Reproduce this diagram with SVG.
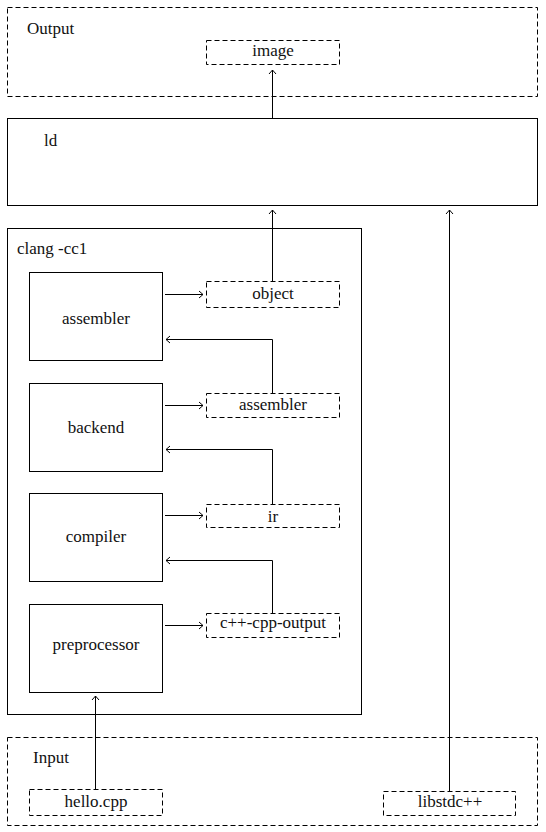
<svg xmlns="http://www.w3.org/2000/svg" width="546" height="832" viewBox="0 0 546 832">
  <style>
    text { font-family: "Liberation Serif", "Times New Roman", serif; font-size: 17px; fill: #111; }
    .mid { text-anchor: middle; }
    .box { fill: none; stroke: #000; stroke-width: 1; }
    .dash { fill: none; stroke: #000; stroke-width: 1; stroke-dasharray: 5 3; }
    .edge { fill: none; stroke: #000; stroke-width: 1; marker-end: url(#arrow); }
  </style>
  <defs>
    <marker id="arrow" markerUnits="userSpaceOnUse" markerWidth="10" markerHeight="10" viewBox="-6 -5 8 10" refX="0" refY="0" orient="auto">
      <path d="M-4,-3.5 L0,0 L-4,3.5" fill="none" stroke="#000" stroke-width="1"/>
    </marker>
  </defs>
  <rect width="546" height="832" fill="#fff"/>

  <!-- Output cluster -->
  <g id="output">
    <rect class="dash" x="7.5" y="7.5" width="530" height="89"/>
    <text x="27" y="34">Output</text>
  </g>
  <g id="image">
    <rect class="dash" x="206.5" y="40.5" width="133" height="24"/>
    <text class="mid" x="273" y="56">image</text>
  </g>

  <!-- Linker -->
  <g id="ld">
    <rect class="box" x="7.5" y="118.5" width="530" height="87"/>
    <text x="44" y="145.5">ld</text>
  </g>

  <!-- Compiler driver cluster -->
  <g id="clang-cc1">
    <rect class="box" x="7.5" y="228.5" width="354" height="486"/>
    <text x="17" y="254">clang -cc1</text>
  </g>
  <g id="assembler">
    <rect class="box" x="29.5" y="272.5" width="133" height="88"/>
    <text class="mid" x="96" y="323.5">assembler</text>
  </g>
  <g id="backend">
    <rect class="box" x="29.5" y="383.5" width="133" height="88"/>
    <text class="mid" x="96" y="432.5">backend</text>
  </g>
  <g id="compiler">
    <rect class="box" x="29.5" y="493.5" width="133" height="88"/>
    <text class="mid" x="96" y="541.5">compiler</text>
  </g>
  <g id="preprocessor">
    <rect class="box" x="29.5" y="604.5" width="133" height="88"/>
    <text class="mid" x="96" y="650">preprocessor</text>
  </g>

  <!-- Intermediate artifacts -->
  <g id="object">
    <rect class="dash" x="206.5" y="281.5" width="133" height="26"/>
    <text class="mid" x="273" y="299">object</text>
  </g>
  <g id="assembler-file">
    <rect class="dash" x="206.5" y="393.5" width="133" height="24"/>
    <text class="mid" x="273" y="410">assembler</text>
  </g>
  <g id="ir">
    <rect class="dash" x="206.5" y="504.5" width="133" height="23"/>
    <text class="mid" x="273" y="521.5">ir</text>
  </g>
  <g id="cpp-output">
    <rect class="dash" x="206.5" y="613.5" width="133" height="24"/>
    <text class="mid" x="273" y="628">c++-cpp-output</text>
  </g>

  <!-- Input cluster -->
  <g id="input">
    <rect class="dash" x="7.5" y="737.5" width="530" height="88"/>
    <text x="33" y="763">Input</text>
  </g>
  <g id="hello-cpp">
    <rect class="dash" x="29.5" y="789.5" width="133" height="26"/>
    <text class="mid" x="96" y="807">hello.cpp</text>
  </g>
  <g id="libstdcxx">
    <rect class="dash" x="383.5" y="791.5" width="132" height="24"/>
    <text class="mid" x="450" y="807">libstdc++</text>
  </g>

  <!-- Connectors -->
  <g id="edges">
    <path class="edge" d="M272.5,118 V70"/>
    <path class="edge" d="M272.5,281 V210"/>
    <path class="edge" d="M449.5,791 V210"/>
    <path class="edge" d="M165,294.5 H203"/>
    <path class="edge" d="M272.5,393 V339.5 H166"/>
    <path class="edge" d="M165,405.5 H203"/>
    <path class="edge" d="M272.5,504 V449.5 H166"/>
    <path class="edge" d="M165,515.5 H203"/>
    <path class="edge" d="M272.5,613 V560.5 H166"/>
    <path class="edge" d="M165,625.5 H203"/>
    <path class="edge" d="M95.5,789 V696"/>
  </g>
</svg>
